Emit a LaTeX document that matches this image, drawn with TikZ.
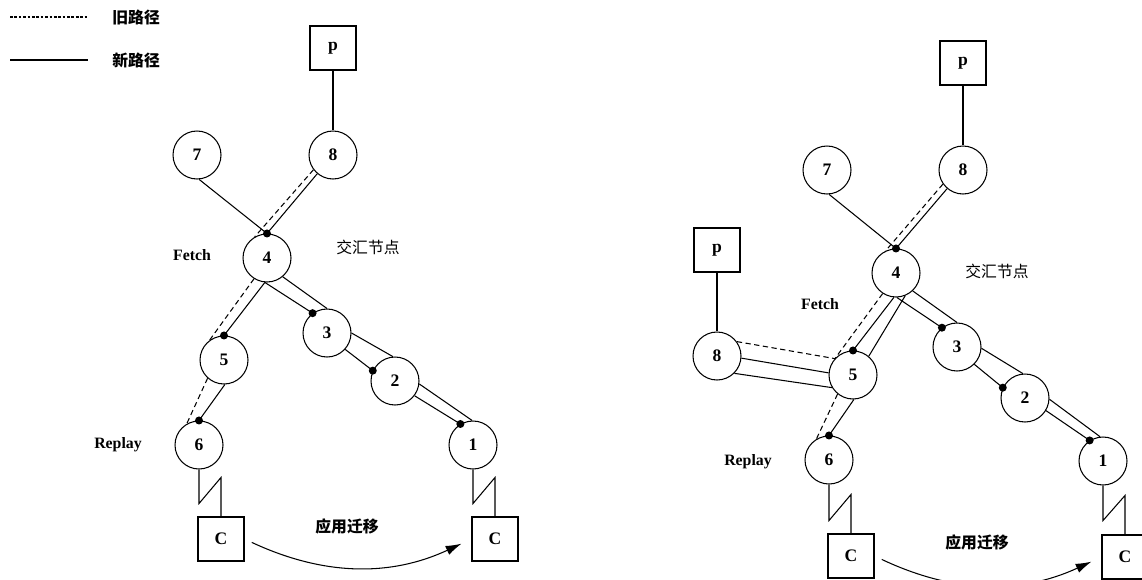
\documentclass[tikz,border=0pt]{standalone}
\usepackage{fontspec}
\setmainfont{Liberation Serif}
\newfontfamily\cjk{Noto Sans CJK SC}
\usetikzlibrary{calc,arrows.meta}
\tikzset{
	site/.style={circle,draw,minimum size=0.96cm,inner sep=0pt,font=\bfseries\fontsize{10}{12}\selectfont},
	host/.style={rectangle,draw,minimum width=0.92cm,minimum height=0.88cm,inner sep=0pt,font=\bfseries\fontsize{10}{12}\selectfont},
	oldpath/.style={dash pattern=on 3pt off 2pt},
	tag/.style={font=\bfseries\fontsize{9}{11}\selectfont},
	cjktag/.style={font=\cjk\fontsize{9}{11}\selectfont},
	cjkbold/.style={font=\cjk\bfseries\fontsize{9}{11}\selectfont},
}

\begin{document}
\begin{tikzpicture}[x=0.02cm,y=-0.02cm,line width=0.6pt]
	\useasboundingbox (0,0) rectangle (1142,579);
	% legend
	\coordinate (o1) at (10,17);
	\coordinate (o2) at (87,17);
	\coordinate (n1a) at (10,60);
	\coordinate (n1b) at (88,60);
	\node[cjkbold,anchor=west] (oldlbl) at (106,17) {旧路径};
	\node[cjkbold,anchor=west] (newlbl) at (106,60) {新路径};
	\draw[dash pattern=on 1.5pt off 1pt] (o1) -- (o2);
	\draw (n1a) -- (n1b);

	% left: before migration
	\node[host] (p1) at (333,48) {p};
	\node[site] (n8) at (333,155) {8};
	\node[site] (n7) at (197,155) {7};
	\node[site] (n4) at (267,258) {4};
	\node[site] (n5) at (224,360) {5};
	\node[site] (n3) at (327,333) {3};
	\node[site] (n2) at (395,381) {2};
	\node[site] (n6) at (199,445) {6};
	\node[site] (n1) at (473,445) {1};
	\node[host] (c1) at (221,539) {C};
	\node[host] (c2) at (495,539) {C};
	\node[tag] (fetch1) at (192,255) {Fetch};
	\node[tag] (replay1) at (118,445) {Replay};
	\node[cjktag] (meet1) at (368,247) {交汇节点};
	\node[cjkbold] (move1) at (347,526) {应用迁移};
	\coordinate (d4) at (n4.north);
	\coordinate (d5) at (n5.north);
	\coordinate (d6) at (n6.north);
	\coordinate (d3) at (n3.126);
	\coordinate (d2) at (n2.155);
	\coordinate (d1) at (n1.121);

	\draw (p1) -- (n8);
	\draw[oldpath] (n8.217) -- (n4.120);
	\draw[oldpath] (n4.238) -- (n5.126);
	\draw[oldpath] (n5.228) -- (n6.120);
	\draw (n8) -- (d4);
	\draw (n7.-85) -- (d4);
	\draw (n4.-95) -- (d5);
	\draw (n5.-88) -- (d6);
	\draw (n4.-95) -- (d3);
	\draw (n4.-50) -- (n3.90);
	\draw (n3.-42) -- (d2);
	\draw (n3.0) -- (n2.95);
	\draw (n2.-37) -- (d1);
	\draw (n2.-7) -- (n1.92);
	\foreach \d in {d4,d5,d6,d3,d2,d1}
		\fill (\d) circle (4);
	\draw (n6.south) -- ++(0,34) -- ($(c1.north)+(0,-39)$) -- (c1.north);
	\draw (n1.south) -- ++(0,34) -- ($(c2.north)+(0,-39)$) -- (c2.north);
	\draw[-{Latex[length=9pt,width=5.5pt]},shorten <=0.16cm,shorten >=0.22cm] (c1.east) to[bend right=25] (c2.west);

	% right: after migration
	\node[host] (p2) at (963,63) {p};
	\node[site] (n8r) at (963,170) {8};
	\node[site] (n7r) at (827,170) {7};
	\node[site] (n4r) at (896,273) {4};
	\node[site] (n3r) at (957,347) {3};
	\node[site] (n2r) at (1025,398) {2};
	\node[site] (n1r) at (1103,461) {1};
	\node[site] (n5r) at (853,375) {5};
	\node[site] (n6r) at (829,460) {6};
	\node[host] (p3) at (717,250) {p};
	\node[site] (n8b) at (717,356) {8};
	\node[host] (c3) at (851,556) {C};
	\node[host] (c4) at (1125,557) {C};
	\node[tag] (fetch2) at (820,304) {Fetch};
	\node[tag] (replay2) at (748,462) {Replay};
	\node[cjktag] (meet2) at (997,271) {交汇节点};
	\node[cjkbold] (move2) at (977,542) {应用迁移};
	\coordinate (d4r) at (n4r.north);
	\coordinate (d5r) at (n5r.north);
	\coordinate (d6r) at (n6r.north);
	\coordinate (d3r) at (n3r.128);
	\coordinate (d2r) at (n2r.155);
	\coordinate (d1r) at (n1r.123);

	\draw (p2) -- (n8r);
	\draw (p3) -- (n8b);
	\draw[oldpath] (n8r.215) -- (n4r.115);
	\draw[oldpath] (n4r.237) -- (n5r.136);
	\draw[oldpath] (n8b.36) -- (n5r.138);
	\draw[oldpath] (n5r.231) -- (n6r.121);
	\draw (n8r) -- (d4r);
	\draw (n7r.-85) -- (d4r);
	\draw (n4r.-95) -- (d5r);
	\draw (n4r.-68) -- (n5r.50);
	\draw (n4r.-88) -- (d3r);
	\draw (n4r.-47) -- (n3r.90);
	\draw (n3r.-45) -- (d2r);
	\draw (n3r.-3) -- (n2r.95);
	\draw (n2r.-31) -- (d1r);
	\draw (n2r.-3) -- (n1r.97);
	\draw (n8b.-5) -- (n5r.175);
	\draw (n8b.-45) -- (n5r.211);
	\draw (n5r.-88) -- (d6r);
	\foreach \d in {d4r,d5r,d6r,d3r,d2r,d1r}
		\fill (\d) circle (4);
	\draw (n6r.south) -- ++(0,36) -- ($(c3.north)+(0,-39)$) -- (c3.north);
	\draw (n1r.south) -- ++(0,35) -- ($(c4.north)+(0,-39)$) -- (c4.north);
	\draw[-{Latex[length=9pt,width=5.5pt]},shorten <=0.16cm,shorten >=0.22cm] (c3.east) to[bend right=25] (c4.west);
\end{tikzpicture}
\end{document}
